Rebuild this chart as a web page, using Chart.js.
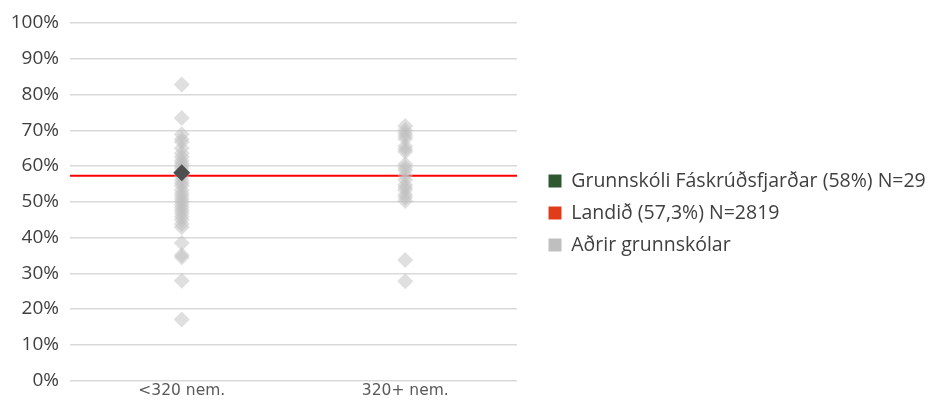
<!DOCTYPE html>
<html>
<head>
<meta charset="utf-8">
<script src="https://cdn.jsdelivr.net/npm/chart.js@4"></script>
<style>
	html, body { margin: 0; padding: 0; background: #fff; }
	#wrap { width: 931px; height: 403px; }
</style>
</head>
<body>
<div id="wrap"><canvas id="grafico"></canvas></div>
<script>
// flokkar og gildi
const flokkar = ["<320 nem.", "320+ nem."];
const yTicks = [0, 10, 20, 30, 40, 50, 60, 70, 80, 90, 100];

const adrirSmaerri = [82.8, 73.4, 68.9, 67.5, 66.7, 65, 63.6, 62.5, 61.5, 60.7, 60, 59.3, 57.1, 56, 55.2, 54.5, 53.3, 52.4, 51.6, 50.8, 50, 49.2, 48.4, 47.6, 46.7, 45.8, 45, 43.8, 42.9, 38.5, 35.1, 34.5, 27.9, 17.1];
const adrirStaerri = [71.2, 70, 69.2, 68.4, 67.6, 65.5, 64.7, 64, 60.5, 59.6, 58.8, 57.5, 56.2, 54.8, 54, 53.3, 52, 51.2, 50.2, 33.7, 27.8];
const skolinn = [58.1];
const skolinnFlokkur = 0;
const landid = 57.3;

const merki = [
	{ text: "Grunnskóli Fáskrúðsfjarðar (58%) N=29", color: "#2f5730" },
	{ text: "Landið (57,3%) N=2819", color: "#e03c1a" },
	{ text: "Aðrir grunnskólar", color: "#bfbfbf" },
];

// breidd skýringar og bil frá teiknisvæði
const skyringBreidd = 414;
const skyringBil = 19;

const adrirData = [];
adrirSmaerri.forEach((v) => adrirData.push({ x: 0.5, y: v }));
adrirStaerri.forEach((v) => adrirData.push({ x: 1.5, y: v }));

const skyringPlugin = {
	id: "skyring",
	afterInit(chart) {
		const legend = chart.legend;
		const upprunalegt = legend.update;
		legend.update = function (w, h, m) {
			upprunalegt.call(this, 2000, h, m);
			this.width = skyringBreidd;
		};
	},
	afterLayout(chart) {
		chart.legend.left += skyringBil;
	},
};

const ctx = document.querySelector("#grafico");

new Chart(ctx, {
	type: "scatter",
	plugins: [skyringPlugin],
	data: {
		datasets: [
			{
				label: merki[0].text,
				data: skolinn.map((v) => ({ x: skolinnFlokkur + 0.5, y: v })),
				pointStyle: "rectRot",
				pointRadius: 8.5,
				pointBackgroundColor: "#4f4f4f",
				pointBorderWidth: 0,
				order: 1,
			},
			{
				label: merki[1].text,
				type: "line",
				data: [{ x: 0, y: landid }, { x: 2, y: landid }],
				borderColor: "#ff0000",
				borderWidth: 2,
				pointRadius: 0,
				order: 3,
			},
			{
				label: merki[2].text,
				data: adrirData,
				pointStyle: "rectRot",
				pointRadius: 8,
				pointBackgroundColor: "rgba(191, 191, 191, 0.5)",
				pointBorderWidth: 0,
				order: 2,
			},
		],
	},
	options: {
		responsive: true,
		maintainAspectRatio: false,
		animation: false,
		layout: { padding: { top: 23, right: 0, left: 0, bottom: 0 } },
		scales: {
			x: {
				type: "linear",
				min: 0,
				max: 2,
				afterBuildTicks: (scale) => {
					scale.ticks = flokkar.map((f, i) => ({ value: i + 0.5 }));
				},
				ticks: {
					callback: (value) => flokkar[Math.floor(value)],
					font: { family: "DejaVu Sans", size: 15.5 },
					color: "#595959",
					padding: 1,
					maxRotation: 0,
				},
				grid: { display: false, drawTicks: false },
				border: { display: false },
			},
			y: {
				min: 0,
				max: 100,
				afterBuildTicks: (scale) => {
					scale.ticks = yTicks.map((v) => ({ value: v }));
				},
				afterFit: (scale) => {
					scale.width = 70;
				},
				ticks: {
					callback: (value) => value + "%",
					font: { family: "Open Sans", size: 19 },
					color: "#404040",
					padding: 11,
				},
				grid: { color: "#d9d9d9", lineWidth: 1.5, drawTicks: false },
				border: { display: false },
			},
		},
		plugins: {
			tooltip: { enabled: false },
			legend: {
				position: "right",
				labels: {
					font: { family: "Open Sans", size: 19.5 },
					color: "#404040",
					boxWidth: 13,
					boxHeight: 13,
					padding: 12.5,
					generateLabels: () =>
						merki.map((m, i) => ({
							text: m.text,
							fillStyle: m.color,
							strokeStyle: m.color,
							lineWidth: 0,
							datasetIndex: i,
							fontColor: "#404040",
						})),
				},
			},
		},
	},
});
</script>
</body>
</html>
